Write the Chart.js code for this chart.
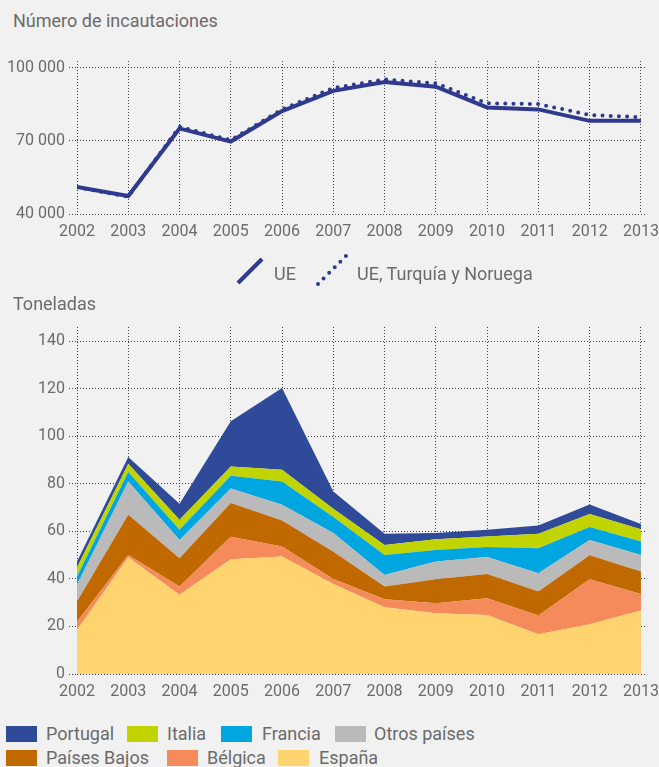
<!DOCTYPE html>
<html lang="es">
<head>
<meta charset="utf-8">
<title>Incautaciones de cocaína</title>
<script src="https://cdn.jsdelivr.net/npm/chart.js@4.4.0/dist/chart.umd.min.js"></script>
<style>
  html, body { margin: 0; padding: 0; background: #f1f1f1; }
  body { width: 659px; height: 767px; position: relative; overflow: hidden;
         font-family: Roboto, "Noto Sans", sans-serif; color: #6b6b6b; }
  .t { position: absolute; font-size: 18px; line-height: 18px; white-space: nowrap; }
  canvas { position: absolute; left: 0; }
  #c1 { top: 0; }
  #c2 { top: 290px; }
  .sw { position: absolute; width: 31px; height: 16px; }
  svg { position: absolute; left: 0; top: 0; }
</style>
</head>
<body>

<div class="t" style="left:13px; top:12px">Número de incautaciones</div>
<canvas id="c1" width="659" height="250"></canvas>

<svg width="659" height="300">
  <line x1="238" y1="283" x2="262" y2="259" stroke="#2f3a8f" stroke-width="4" />
  <line x1="318" y1="284" x2="346" y2="256" stroke="#2f3a8f" stroke-width="4"
        stroke-linecap="round" stroke-dasharray="0 7.9" />
</svg>
<div class="t" style="left:274px; top:265px">UE</div>
<div class="t" style="left:357px; top:265px">UE, Turquía y Noruega</div>

<div class="t" style="left:13px; top:295px">Toneladas</div>
<canvas id="c2" width="659" height="420"></canvas>

<div id="legend"></div>

<script>
// Years shared by both panels
const years = [2002, 2003, 2004, 2005, 2006, 2007, 2008, 2009, 2010, 2011, 2012, 2013];

// Number of seizures
const seizuresUE       = [51100, 47400, 75100, 69700, 82200, 90500, 94100, 92200, 83700, 82900, 78200, 78200];
const seizuresUETrNo   = [51000, 47100, 75800, 70300, 82900, 91700, 95200, 93600, 85400, 85100, 80600, 79700];
const seizureTicks     = [40000, 70000, 100000];

// Tonnes seized, by country (stacked from España upwards)
const espana       = [18.5, 49.1, 33.3, 48.3, 49.4, 37.9, 28.1, 25.6, 24.8, 16.7, 20.9, 26.7];
const belgica      = [3.5, 1.0, 3.5, 9.5, 4.2, 2.1, 3.4, 4.2, 7.1, 7.9, 19.0, 7.0];
const paisesBajos  = [8.5, 16.9, 11.9, 14.1, 11.0, 11.4, 5.3, 10.1, 10.2, 10.1, 10.1, 9.4];
const otrosPaises  = [7.0, 14.0, 7.7, 6.2, 6.6, 7.9, 4.9, 7.4, 7.1, 7.7, 6.4, 7.0];
const francia      = [3.5, 4.0, 4.3, 5.3, 9.8, 6.8, 8.4, 4.9, 4.2, 10.5, 5.4, 5.6];
const italia       = [3.8, 3.5, 4.2, 3.9, 4.9, 3.4, 4.2, 4.5, 4.5, 6.1, 5.5, 5.2];
const portugal     = [2.5, 2.8, 6.7, 19.0, 34.4, 7.3, 4.7, 2.6, 2.8, 3.5, 4.0, 2.2];
const tonneTicks   = [0, 20, 40, 60, 80, 100, 120, 140];

const NAVY = '#2f3a8f';
const TEXT = '#6b6b6b';
const GRID = 'rgba(45,45,45,0.9)';

Chart.defaults.font.family = 'Roboto, "Noto Sans", sans-serif';
Chart.defaults.font.size = 16;
Chart.defaults.color = TEXT;

const pts = arr => years.map((y, i) => ({ x: y, y: arr[i] }));
const spaced = v => String(v).replace(/\B(?=(\d{3})+(?!\d))/g, ' ');

function xAxis() {
  return {
    type: 'linear', min: 2002, max: 2013.08,
    afterBuildTicks: s => { s.ticks = years.map(v => ({ value: v })); },
    afterFit: s => { s.height = 36; s.paddingLeft = 0; s.paddingRight = 0; },
    ticks: { callback: v => String(v), autoSkip: false, maxRotation: 0, padding: 8, color: TEXT },
    grid: { color: GRID, lineWidth: 1, drawTicks: false },
    border: { display: false, dash: [1, 2] }
  };
}

function yAxis(min, max, ticks, fmt) {
  return {
    type: 'linear', min: min, max: max,
    afterBuildTicks: s => { s.ticks = ticks.map(v => ({ value: v })); },
    afterFit: s => { s.width = 77; },
    ticks: { callback: fmt, padding: 4, color: TEXT },
    grid: { color: GRID, lineWidth: 1, drawTicks: true, tickLength: 8,
            tickColor: GRID, tickBorderDash: [1, 2] },
    border: { display: false, dash: [1, 2] }
  };
}

// Top panel: number of seizures
new Chart(document.getElementById('c1'), {
  type: 'line',
  data: {
    datasets: [
      { label: 'UE, Turquía y Noruega', data: pts(seizuresUETrNo), borderColor: NAVY,
        borderWidth: 4, borderDash: [0, 8.2], borderCapStyle: 'round',
        pointRadius: 0, tension: 0, fill: false },
      { label: 'UE', data: pts(seizuresUE), borderColor: NAVY, borderWidth: 4,
        pointRadius: 0, tension: 0, fill: false }
    ]
  },
  options: {
    responsive: false, animation: false,
    layout: { padding: { top: 61, right: 14, left: 0, bottom: 0 } },
    plugins: { legend: { display: false }, tooltip: { enabled: false } },
    scales: {
      x: xAxis(),
      y: yAxis(40000, 102750, seizureTicks, v => spaced(v))
    }
  }
});

// Bottom panel: tonnes seized, stacked areas
const series = [
  { label: 'España',       data: espana,      color: '#ffd36e' },
  { label: 'Bélgica',      data: belgica,     color: '#f58a5a' },
  { label: 'Países Bajos', data: paisesBajos, color: '#bf6900' },
  { label: 'Otros países', data: otrosPaises, color: '#bababa' },
  { label: 'Francia',      data: francia,     color: '#00a6e0' },
  { label: 'Italia',       data: italia,      color: '#c2d400' },
  { label: 'Portugal',     data: portugal,    color: '#2e4a99' }
];

new Chart(document.getElementById('c2'), {
  type: 'line',
  data: {
    datasets: series.map((s, i) => ({
      label: s.label, data: pts(s.data),
      backgroundColor: s.color, borderColor: 'rgba(0,0,0,0)', borderWidth: 0,
      pointRadius: 0, tension: 0, fill: i === 0 ? 'origin' : '-1'
    }))
  },
  options: {
    responsive: false, animation: false,
    layout: { padding: { top: 37, right: 14, left: 0, bottom: 0 } },
    plugins: { legend: { display: false }, tooltip: { enabled: false } },
    scales: {
      x: xAxis(),
      y: Object.assign(yAxis(0, 146, tonneTicks, v => String(v)), { stacked: true })
    }
  }
});

// Legend for the stacked areas
const legendItems = [
  { name: 'Portugal',     sw: 6,   tx: 46,  top: 726 },
  { name: 'Italia',       sw: 127, tx: 167, top: 726 },
  { name: 'Francia',      sw: 221, tx: 262, top: 726 },
  { name: 'Otros países', sw: 335, tx: 374, top: 726 },
  { name: 'Países Bajos', sw: 6,   tx: 46,  top: 750 },
  { name: 'Bélgica',      sw: 167, tx: 207, top: 750 },
  { name: 'España',       sw: 278, tx: 319, top: 750 }
];
const legend = document.getElementById('legend');
legendItems.forEach(it => {
  const s = series.find(d => d.label === it.name);
  const box = document.createElement('div');
  box.className = 'sw';
  box.style.left = it.sw + 'px';
  box.style.top = it.top + 'px';
  box.style.background = s.color;
  legend.appendChild(box);
  const tx = document.createElement('div');
  tx.className = 't';
  tx.style.left = it.tx + 'px';
  tx.style.top = (it.top - 1) + 'px';
  tx.textContent = it.name;
  legend.appendChild(tx);
});
</script>
</body>
</html>
